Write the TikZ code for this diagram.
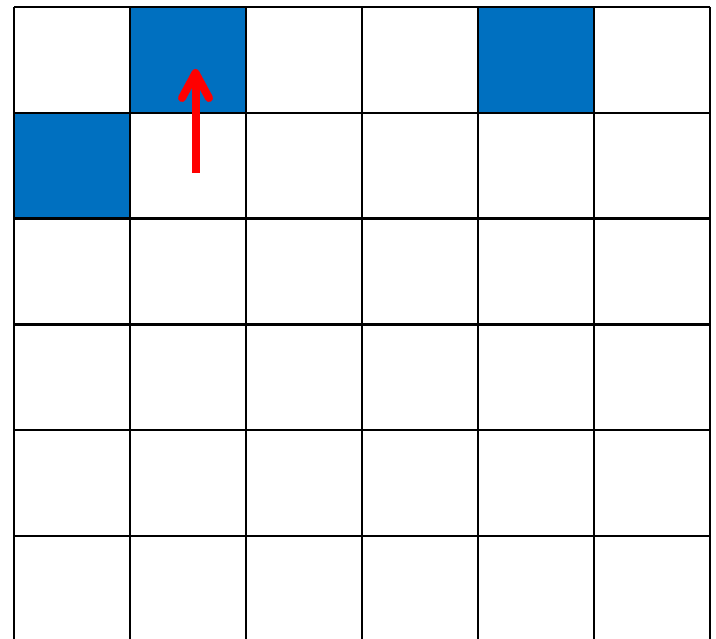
\documentclass[tikz,border=0pt]{standalone}
\definecolor{cellblue}{HTML}{0070C0}
\definecolor{arrowred}{HTML}{FF0000}
\tikzset{
  gridline/.style={line width=2.5pt, black},
  bluecell/.style={fill=cellblue, draw=none},
  redarrow/.style={line width=8pt, arrowred, line cap=round, line join=round}
}
\begin{document}
\begin{tikzpicture}[x=1pt,y=-1pt]
\useasboundingbox (0,0) rectangle (716,639);
\clip (0,0) rectangle (716,639);
\fill[white] (0,0) rectangle (716,639);
% blue cells
\fill[bluecell] (130,7) rectangle (246,112.8);
\fill[bluecell] (478,7) rectangle (594,112.8);
\fill[bluecell] (14,112.8) rectangle (130,218.6);
% grid
\foreach \i in {0,...,6} {
  \draw[gridline] ({14+116*\i},7) -- ({14+116*\i},645);
}
\foreach \j in {0,...,6} {
  \draw[gridline] (14,{7+105.8*\j}) -- (710,{7+105.8*\j});
}
% arrow
\coordinate (tail) at (195.5,173);
\coordinate (tip) at (195.5,73);
\coordinate (barbL) at (182,98);
\coordinate (barbR) at (209,98);
\draw[redarrow, line cap=butt] (tail) -- (tip);
\draw[redarrow] (barbL) -- (tip) -- (barbR);
\end{tikzpicture}
\end{document}
